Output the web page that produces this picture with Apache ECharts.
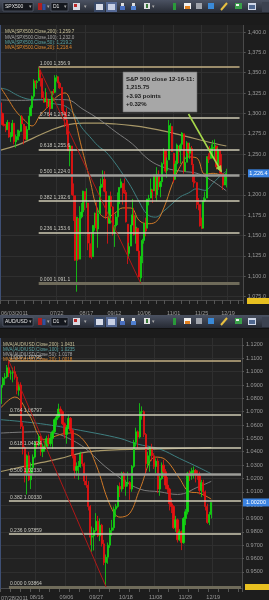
<!DOCTYPE html>
<html><head><meta charset="utf-8">
<script src="https://cdn.jsdelivr.net/npm/echarts/dist/echarts.min.js"></script>
<style>html,body{margin:0;padding:0;background:#1d1d1d;}#c{width:269px;height:600px;}</style>
</head><body><div id="c"></div><script>
// ---------- DATA ----------
function tradingDays(y,m,d,count,skip){var out=[];var dt=new Date(Date.UTC(y,m-1,d));while(out.length<count){var w=dt.getUTCDay();var s=('0'+(dt.getUTCMonth()+1)).slice(-2)+'/'+('0'+dt.getUTCDate()).slice(-2);if(w!==0&&w!==6&&skip.indexOf(s)<0)out.push(s);dt.setUTCDate(dt.getUTCDate()+1);}return out;}
var spxDates = tradingDays(2011,6,3,148,['07/04','09/05','11/24','12/26','01/02']);
var audDates = tradingDays(2011,7,21,122,[]);

var spxOpen=[1313,1300,1287,1285,1280,1289,1271,1272,1288,1265,1268,1272,1278,1296,1287,1284,1268,1280,1297,1307,1321,1340,1338,1340,1353,1343,1319,1314,1318,1309,1316,1306,1327,1326,1344,1345,1337,1332,1305,1301,1292,1287,1254,1260,1200,1199,1121,1171,1121,1173,1179,1204,1193,1190,1140,1124,1124,1162,1177,1158,1177,1209,1213,1219,1204,1173,1165,1198,1185,1153,1162,1173,1189,1209,1214,1204,1203,1164,1128,1137,1163,1175,1152,1159,1131,1098,1124,1144,1166,1159,1194,1196,1206,1205,1224,1200,1224,1210,1216,1238,1254,1230,1243,1284,1284,1251,1219,1238,1260,1253,1262,1275,1229,1240,1263,1251,1257,1236,1216,1215,1192,1188,1161,1159,1193,1196,1246,1246,1245,1257,1258,1260,1235,1255,1237,1226,1212,1216];
var spxHigh=[1313,1301,1297,1287,1292,1289,1277,1292,1288,1274,1280,1280,1297,1298,1287,1284,1284,1297,1310,1322,1342,1340,1341,1356.9,1353,1343,1327,1331,1326,1318,1316,1327,1330,1347,1347,1345,1339,1332,1316,1303,1307,1287,1261,1260,1214,1199,1173,1171,1186,1190,1205,1204,1208,1190,1154,1154,1163,1178,1191,1182,1210,1220,1230,1229,1204,1173,1198,1204,1186,1163,1177,1203,1209,1220,1214,1220,1206,1164,1141,1163,1195,1184,1175,1159,1138,1125,1146,1165,1172,1195,1200,1220,1207,1225,1225,1234,1230,1217,1240,1257,1254,1246,1292,1288,1284,1251,1242,1263,1260,1263,1277,1275,1247,1266,1264,1264,1260,1238,1224,1215,1196,1188,1172,1197,1204,1247,1251,1260,1262,1267,1268,1260,1258,1255,1250,1226,1226,1232];
var spxLow=[1298,1285,1284,1277,1280,1270,1265,1272,1262,1258,1267,1267,1277,1287,1262,1267,1267,1280,1297,1307,1318,1331,1330,1340,1333,1318,1313,1314,1306,1308,1296,1306,1323,1325,1339,1331,1330,1303,1299,1283,1274,1254,1235,1200,1168,1119,1081,1119,1121,1171,1179,1181,1184,1132,1123,1121,1124,1156,1155,1135,1177,1195,1209,1203,1170,1140,1165,1183,1150,1136,1157,1163,1189,1208,1188,1201,1166,1115,1122,1137,1163,1150,1140,1131,1099,1091.1,1116,1140,1149,1159,1187,1196,1190,1205,1196,1192,1206,1197,1216,1238,1227,1221,1243,1278,1253,1215,1219,1228,1239,1238,1255,1226,1229,1240,1246,1244,1237,1209,1214,1183,1181,1161,1158,1159,1191,1196,1239,1243,1245,1254,1244,1231,1235,1226,1223,1206,1212,1209];
var spxClose=[1300.2,1286.2,1284.9,1279.6,1289.0,1271.0,1271.8,1287.9,1265.4,1267.6,1271.5,1278.4,1295.5,1287.1,1283.5,1268.5,1280.1,1296.7,1307.4,1320.6,1339.7,1337.9,1339.2,1353.2,1343.8,1319.5,1313.6,1317.7,1308.9,1316.1,1305.4,1326.7,1325.8,1343.8,1345.0,1337.4,1331.9,1304.9,1300.7,1292.3,1286.9,1254.1,1260.3,1200.1,1199.4,1119.5,1172.5,1120.8,1172.6,1178.8,1204.5,1192.8,1193.9,1140.7,1123.5,1123.8,1162.4,1177.6,1159.3,1176.8,1210.1,1212.9,1218.9,1204.4,1174.0,1165.2,1198.6,1185.9,1154.2,1162.3,1172.9,1188.7,1209.1,1216.0,1204.1,1202.1,1166.8,1129.6,1136.4,1163.0,1175.4,1151.1,1160.4,1131.4,1099.2,1124.0,1144.0,1165.0,1155.5,1194.9,1195.5,1207.3,1203.7,1224.6,1200.9,1225.4,1209.9,1215.4,1238.3,1254.2,1229.1,1242.0,1284.6,1285.1,1253.3,1218.3,1237.9,1261.2,1253.2,1261.1,1275.9,1229.1,1239.7,1263.9,1251.8,1257.8,1236.9,1216.1,1215.7,1193.0,1188.0,1161.8,1158.7,1192.6,1195.2,1247.0,1244.6,1244.3,1257.1,1258.5,1261.0,1234.4,1255.2,1236.5,1225.7,1211.8,1215.8,1226.4];

var spxMa200=[['06/03',1255],['06/17',1261],['07/01',1270],['07/18',1279],['08/01',1286],['08/15',1288],['08/29',1288],['09/13',1287],['09/27',1285],['10/11',1282],['10/25',1278],['11/08',1273],['11/22',1268],['12/07',1263],['12/16',1260]];
var spxMa100=[['06/03',1316.6],['06/17',1316],['07/01',1316.4],['07/18',1317],['08/01',1316.7],['08/15',1305],['08/29',1292.3],['09/13',1277],['09/27',1262.4],['10/11',1243],['10/25',1233],['11/08',1229],['11/22',1225.9],['12/07',1215],['12/16',1204.8]];
var spxMa50=[['06/03',1331],['06/09',1329.1],['06/16',1323.4],['06/23',1319.0],['06/30',1317.1],['07/08',1317.2],['07/15',1312.9],['07/22',1311.4],['07/29',1309.1],['08/05',1300.5],['08/12',1283.2],['08/19',1271.5],['08/26',1260.3],['09/02',1252.3],['09/12',1240.2],['09/19',1225.7],['09/26',1210.2],['10/03',1191.6],['10/10',1175.9],['10/17',1172.6],['10/24',1180.1],['10/31',1188.9],['11/07',1197.5],['11/14',1202.3],['11/21',1207.4],['11/29',1205.5],['12/06',1214.6],['12/13',1224.5],['12/16',1228.9]];
var spxMa20=[['06/03',1331.5],['06/09',1319.1],['06/16',1303.2],['06/23',1292.5],['06/30',1284.6],['07/08',1298.3],['07/15',1308.9],['07/22',1320.5],['07/29',1325.2],['08/05',1299.5],['08/12',1258.9],['08/19',1219.4],['08/26',1181.0],['09/02',1172.0],['09/12',1177.1],['09/19',1183.9],['09/26',1183.8],['10/03',1168.6],['10/10',1164.5],['10/17',1166.5],['10/24',1183.8],['10/31',1212.6],['11/07',1235.1],['11/14',1246.5],['11/21',1245.3],['11/29',1225.4],['12/06',1226.4],['12/13',1224.0],['12/16',1221.2]];

var spxFibRatio=['1.000','0.764','0.618','0.500','0.382','0.236','0.000'];
var spxFibValue=[1356.9,1294.2,1255.6,1224.0,1192.6,1153.6,1091.1];
var spxYTicks=[1075,1100,1125,1150,1175,1200,1225,1250,1275,1300,1325,1350,1375,1400];
var spxXLabels=['07/22','08/17','09/12','10/06','11/01','11/25','12/19'];
var spxArrow=[['11/14',1299.3],['12/13',1228.4]];

var audOpen=[1.0760,1.0900,1.0950,1.0960,1.1030,1.0990,1.0990,1.1000,1.0960,1.0860,1.0900,1.0590,1.0430,1.0230,1.0370,1.0190,1.0280,1.0360,1.0470,1.0450,1.0510,1.0400,1.0420,1.0440,1.0500,1.0460,1.0500,1.0550,1.0640,1.0660,1.0720,1.0700,1.0610,1.0530,1.0580,1.0650,1.0560,1.0370,1.0260,1.0290,1.0290,1.0380,1.0310,1.0180,1.0150,0.9990,0.9760,0.9770,0.9810,0.9880,0.9770,0.9850,0.9710,0.9570,0.9610,0.9700,0.9810,0.9830,0.9970,0.9990,1.0140,1.0120,1.0240,1.0140,1.0170,1.0170,1.0120,1.0290,1.0470,1.0550,1.0510,1.0700,1.0700,1.0530,1.0310,1.0370,1.0430,1.0370,1.0290,1.0330,1.0120,1.0200,1.0300,1.0250,1.0150,1.0120,1.0010,0.9990,0.9830,0.9890,0.9740,0.9800,0.9720,0.9900,0.9950,1.0240,1.0220,1.0250,1.0260,1.0230,1.0220,1.0110,1.0170,1.0100,0.9990,0.9870,0.9930];
var audHigh=[1.0920,1.0960,1.0990,1.1050,1.1080,1.1010,1.1030,1.1040,1.0980,1.0920,1.0920,1.0620,1.0440,1.0380,1.0400,1.0320,1.0380,1.0480,1.0480,1.0530,1.0520,1.0460,1.0480,1.0520,1.0530,1.0540,1.0560,1.0650,1.0680,1.0760,1.0740,1.0710,1.0620,1.0600,1.0680,1.0660,1.0570,1.0380,1.0320,1.0330,1.0400,1.0390,1.0320,1.0230,1.0180,1.0000,0.9840,0.9830,0.9940,0.9920,0.9900,0.9860,0.9740,0.9630,0.9720,0.9830,0.9890,0.9990,1.0010,1.0150,1.0170,1.0250,1.0250,1.0190,1.0250,1.0180,1.0300,1.0490,1.0580,1.0560,1.0764,1.0740,1.0710,1.0540,1.0400,1.0440,1.0460,1.0390,1.0350,1.0350,1.0220,1.0320,1.0340,1.0270,1.0210,1.0130,1.0050,1.0000,0.9920,0.9900,0.9820,0.9810,0.9910,0.9970,1.0250,1.0260,1.0280,1.0290,1.0270,1.0260,1.0250,1.0190,1.0190,1.0110,1.0010,0.9950,1.0020];
var audLow=[1.0740,1.0880,1.0900,1.0950,1.0960,1.0940,1.0920,1.0940,1.0830,1.0820,1.0570,1.0380,1.0170,1.0080,1.0180,1.0120,1.0230,1.0350,1.0420,1.0440,1.0370,1.0360,1.0400,1.0420,1.0440,1.0440,1.0420,1.0540,1.0600,1.0650,1.0680,1.0600,1.0500,1.0460,1.0570,1.0540,1.0350,1.0200,1.0220,1.0190,1.0280,1.0290,1.0150,1.0130,0.9960,0.9700,0.9650,0.9660,0.9800,0.9760,0.9730,0.9690,0.9550,0.9387,0.9560,0.9680,0.9770,0.9810,0.9910,0.9980,1.0060,1.0100,1.0120,1.0070,1.0140,1.0040,1.0100,1.0280,1.0440,1.0420,1.0500,1.0640,1.0510,1.0230,1.0280,1.0250,1.0330,1.0270,1.0240,1.0090,1.0070,1.0190,1.0210,1.0120,1.0090,0.9960,0.9940,0.9820,0.9800,0.9720,0.9730,0.9663,0.9710,0.9850,0.9930,1.0180,1.0190,1.0200,1.0170,1.0190,1.0080,1.0060,1.0070,0.9960,0.9860,0.9850,0.9900];
var audClose=[1.0900,1.0950,1.0960,1.1030,1.0990,1.0990,1.1000,1.0960,1.0860,1.0900,1.0590,1.0430,1.0230,1.0370,1.0190,1.0280,1.0360,1.0470,1.0450,1.0510,1.0400,1.0420,1.0440,1.0500,1.0460,1.0500,1.0550,1.0640,1.0660,1.0720,1.0700,1.0610,1.0530,1.0580,1.0650,1.0560,1.0370,1.0260,1.0290,1.0290,1.0380,1.0310,1.0180,1.0150,0.9990,0.9760,0.9770,0.9810,0.9880,0.9770,0.9850,0.9710,0.9570,0.9610,0.9700,0.9810,0.9830,0.9970,0.9990,1.0140,1.0120,1.0240,1.0140,1.0170,1.0170,1.0120,1.0290,1.0470,1.0550,1.0510,1.0700,1.0700,1.0530,1.0310,1.0370,1.0430,1.0370,1.0290,1.0330,1.0120,1.0200,1.0300,1.0250,1.0150,1.0120,1.0010,0.9990,0.9830,0.9890,0.9740,0.9800,0.9720,0.9900,0.9950,1.0240,1.0220,1.0250,1.0260,1.0230,1.0220,1.0110,1.0170,1.0100,0.9990,0.9870,0.9930,1.0020];

var audMa200=[['07/21',1.0252],['08/04',1.0285],['08/18',1.0318],['09/01',1.0350],['09/15',1.0390],['09/29',1.0408],['10/13',1.0416],['11/10',1.0421],['12/08',1.0428],['12/16',1.0431]];
var audMa100=[['07/21',1.0640],['08/18',1.0610],['09/15',1.0560],['10/13',1.0500],['10/25',1.0460],['11/10',1.0420],['11/24',1.0350],['12/08',1.0280],['12/16',1.0235]];
var audMa50=[['07/21',1.0540],['08/18',1.0550],['09/13',1.0470],['10/06',1.0260],['10/27',1.0120],['11/10',1.0100],['11/23',1.0080],['12/08',1.0140],['12/16',1.0178]];
var audMa20=[['07/21',1.0730],['08/01',1.0810],['08/10',1.0680],['08/22',1.0490],['09/01',1.0530],['09/08',1.0540],['09/19',1.0480],['09/27',1.0300],['10/06',1.0000],['10/13',0.9910],['10/20',0.9940],['10/27',1.0120],['11/08',1.0360],['11/15',1.0340],['11/24',1.0200],['12/01',1.0100],['12/08',1.0090],['12/16',1.0045]];

var audFibRatio=['1.000','0.764','0.618','0.500','0.382','0.236','0.000'];
var audFibValue=[1.10795,1.06797,1.04324,1.02330,1.00330,0.97859,0.93864];
var audYTicks=[0.95,0.96,0.97,0.98,0.99,1.00,1.01,1.02,1.03,1.04,1.05,1.06,1.07,1.08,1.09,1.10,1.11,1.12];
var audXLabels=['08/16','09/06','09/27','10/18','11/08','11/29','12/19'];

var spxLegend=['MVA(SPX500.Close,200): 1,259.7','MVA(SPX500.Close,100): 1,232.0','MVA(SPX500.Close,50): 1,219.2','MVA(SPX500.Close,20): 1,218.4'];
var audLegend=['MVA(AUD/USD.Close,200): 1.0431','MVA(AUD/USD.Close,100): 1.0235','MVA(AUD/USD.Close,50): 1.0178','MVA(AUD/USD.Close,20): 1.0018'];
var noteLines=['S&P 500 close 12-16-11:','1,215.75','+3.93 points','+0.32%'];
var firstDateLabels=['06/03/2011','07/28/2011'];

// ---------- CHART ----------
var FONT='"Liberation Sans", Arial, sans-serif';
var chart=echarts.init(document.getElementById('c'),null,{renderer:'canvas'});
var UP='#12d812',DN='#e81212';
function candles(o,h,l,c){return o.map(function(v,i){return [v,c[i],l[i],h[i]];});}
function fibMark(ratios,vals,start,end,labFmt){
  var cols=['#c4b184','#cfcbb4','#cfcbb4','#9d9d98','#cfcbb4','#cfcbb4','#6f6b5a'];
  var widths=[1.5,1.5,1.5,2.5,1.5,1.5,3];
  var d=vals.map(function(v,i){return [{coord:[start,v],lineStyle:{color:cols[i],width:widths[i],type:'solid'},label:{formatter:ratios[i]+' '+labFmt(v)}},{coord:[end,v]}];});
  return {symbol:['none','none'],silent:true,animation:false,label:{show:true,position:'insideStartTop',color:'#c8c8c0',fontSize:5,fontFamily:FONT,distance:1},data:d};
}
function maSeries(data,color,xi,yi,w){return {type:'line',xAxisIndex:xi,yAxisIndex:yi,data:data,smooth:0.4,connectNulls:true,showSymbol:false,symbol:'none',lineStyle:{color:color,width:w||1},silent:true,z:3};}
function fmtSpx(v){return v.toLocaleString('en-US',{minimumFractionDigits:1,maximumFractionDigits:1});}

var option={
  backgroundColor:'#1d1d1d',animation:false,
  grid:[{left:0,top:25,width:247,height:275,show:true,backgroundColor:'#222222',borderWidth:0},
        {left:0,top:338,width:242,height:251,show:true,backgroundColor:'#222222',borderWidth:0}],
  xAxis:[
   {type:'category',gridIndex:0,data:spxDates,boundaryGap:true,
    axisLine:{show:true,lineStyle:{color:'#4a4a4a'}},
    axisTick:{show:true,interval:function(i){return i%5===0;},length:4,lineStyle:{color:'#555'}},
    axisLabel:{interval:function(i,v){return spxXLabels.indexOf(v)>=0;},color:'#9a9a9a',fontSize:5.5,fontFamily:FONT,margin:10},
    splitLine:{show:true,interval:function(i,v){return spxXLabels.indexOf(v)>=0;},lineStyle:{color:'#2f2f2f',width:1}}},
   {type:'category',gridIndex:1,data:audDates,boundaryGap:true,
    axisLine:{show:true,lineStyle:{color:'#4a4a4a'}},
    axisTick:{show:true,interval:function(i){return i%5===0;},length:4,lineStyle:{color:'#555'}},
    axisLabel:{interval:function(i,v){return audXLabels.indexOf(v)>=0;},color:'#9a9a9a',fontSize:5.5,fontFamily:FONT,margin:6},
    splitLine:{show:true,interval:function(i,v){return audXLabels.indexOf(v)>=0;},lineStyle:{color:'#2f2f2f',width:1}}}
  ],
  yAxis:[
   {type:'value',gridIndex:0,position:'right',min:1070.8,max:1408.6,scale:true,
    axisLine:{show:true,lineStyle:{color:'#4a4a4a'}},
    axisTick:{show:true,customValues:spxYTicks,length:2,lineStyle:{color:'#555'}},
    axisLabel:{customValues:spxYTicks,formatter:fmtSpx,color:'#9a9a9a',fontSize:5.5,fontFamily:FONT,margin:4},
    splitLine:{show:true,lineStyle:{color:'#2f2f2f',width:1}}},
   {type:'value',gridIndex:1,position:'right',min:0.93791,max:1.12522,scale:true,
    axisLine:{show:true,lineStyle:{color:'#4a4a4a'}},
    axisTick:{show:true,customValues:audYTicks,length:2,lineStyle:{color:'#555'}},
    axisLabel:{customValues:audYTicks,formatter:function(v){return v.toFixed(4);},color:'#9a9a9a',fontSize:5.5,fontFamily:FONT,margin:4},
    splitLine:{show:true,lineStyle:{color:'#2f2f2f',width:1}}}
  ],
  series:[
   maSeries(spxMa200,'#a89868',0,0,1.2),maSeries(spxMa100,'#7c7c7c',0,0,1),maSeries(spxMa50,'#3f7f80',0,0,1),maSeries(spxMa20,'#d07a28',0,0,1),
   {type:'candlestick',xAxisIndex:0,yAxisIndex:0,data:candles(spxOpen,spxHigh,spxLow,spxClose),barWidth:1.6,z:4,
    itemStyle:{color:UP,color0:DN,borderColor:UP,borderColor0:DN,borderWidth:0.8},
    markLine:fibMark(spxFibRatio,spxFibValue,'07/07','12/29',fmtSpx)},
   {type:'line',xAxisIndex:0,yAxisIndex:0,data:[['07/07',spxFibValue[0]],['10/04',spxFibValue[6]]],showSymbol:false,symbol:'none',lineStyle:{color:'#b01818',width:1},silent:true,z:5},
   maSeries(audMa200,'#a89868',1,1,1.2),maSeries(audMa100,'#3f7f80',1,1,1),maSeries(audMa50,'#7c7c7c',1,1,1),maSeries(audMa20,'#d07a28',1,1,1),
   {type:'candlestick',xAxisIndex:1,yAxisIndex:1,data:candles(audOpen,audHigh,audLow,audClose),barWidth:1.8,z:4,
    itemStyle:{color:UP,color0:DN,borderColor:UP,borderColor0:DN,borderWidth:0.8},
    markLine:fibMark(audFibRatio,audFibValue,'07/27',audDates[audDates.length-1],function(v){return v.toFixed(5);})},
   {type:'line',xAxisIndex:1,yAxisIndex:1,data:[['07/27',audFibValue[0]],['10/04',audFibValue[6]]],showSymbol:false,symbol:'none',lineStyle:{color:'#b01818',width:1},silent:true,z:5}
  ]
};
chart.setOption(option);

// ---------- DECORATION (toolbars, legends, note, tags) ----------
var G=[];
function rect(x,y,w,h,fill,stroke,z){G.push({type:'rect',shape:{x:x,y:y,width:w,height:h},style:{fill:fill,stroke:stroke||null,lineWidth:stroke?0.6:0},silent:true,z:z||100});}
function txt(x,y,t,fill,size,opt){var s={text:t,fill:fill,font:(opt&&opt.weight?opt.weight+' ':'')+size+'px '+FONT,align:(opt&&opt.align)||'left',verticalAlign:'middle'};G.push({type:'text',x:x,y:y,style:s,silent:true,z:(opt&&opt.z)||101});}
function toolbar(y,sym){
  G.push({type:'rect',shape:{x:0,y:y,width:269,height:13},style:{fill:new echarts.graphic.LinearGradient(0,0,0,1,[{offset:0,color:'#4b5262'},{offset:1,color:'#262a33'}])},silent:true,z:100});
  rect(0,y+13,269,1,'#111');
  rect(3,y+2.5,30,8.5,'#14171d','#636a7a');txt(5,y+6.8,sym,'#e8e8e8',5);txt(29,y+6.8,'▾','#aaa',5);
  rect(38,y+3,4,7,'#b02020');rect(42.5,y+4,3,6,'#3050a0');txt(47,y+6.8,'▾','#aaa',5);
  rect(51,y+2.5,17,8.5,'#14171d','#636a7a');txt(53,y+6.8,'D1','#e8e8e8',5);txt(64,y+6.8,'▾','#aaa',5);
  rect(73,y+3,7,7,'#d8d8e0');rect(74,y+4,3,3,'#c02828');txt(84,y+6.8,'▾','#aaa',5);
  rect(94,y+2,11,10,'#3a4a68');rect(96,y+4,7,6,'#d8dce8');
  rect(106,y+2,11,10,'#566a96');rect(108,y+4,7,6,'#c8d0e4');
  rect(121,y+3,3,3,'#e0e0e0');rect(120,y+6,5,4,'#4a70c0');
  rect(132,y+3,3,3,'#e0e0e0');rect(131,y+6,5,4,'#5080d0');
  rect(144,y+3,6,6,'#e0e0e0');rect(146,y+4,2,4,'#3a7a3a');txt(152,y+6.8,'▾','#aaa',5);
  rect(173,y+3,3,7,'#2a9a3a');
  rect(184,y+3,7,6,'#f0f0f0');rect(185,y+6,5,3,'#e08020');
  rect(196,y+3,6,6,'#a0a4ac');
  rect(208,y+3,6,6,'#3a8ad8');
  G.push({type:'line',shape:{x1:221,y1:y+10,x2:227,y2:y+3},style:{stroke:'#e8c040',lineWidth:2},silent:true,z:101});
  rect(235,y+3,7,6,'#3aa04a');rect(236,y+4,3,2,'#f0f0f0');
  rect(248,y+3,8,7,'#d0d8e8');rect(249,y+5,6,4,'#506890');
  rect(262,y+2,7,10,'#3c4250');
}
toolbar(0,'SPX500');
rect(0,14,269,11,'#1b1b1b');
toolbar(315,'AUD/USD');
rect(0,329,269,9,'#1b1b1b');

// left edge accent
rect(0,25,1,275,'#3e4f74');
rect(0,338,1,251,'#3e4f74');

// legends
var legColTop=['#c9c29a','#a9a9a9','#5aa6a6','#e08a30'];
spxLegend.forEach(function(t,i){txt(5,32+i*5.3,t,legColTop[i],4.6);});
var legColBot=['#c9c29a','#5aa6a6','#a9a9a9','#e08a30'];
audLegend.forEach(function(t,i){txt(3,345+i*5,t,legColBot[i],4.6);});

// first date labels
txt(1,313,firstDateLabels[0],'#9a9a9a',5.5);
txt(1,598,firstDateLabels[1],'#9a9a9a',5.5);

// annotation box
rect(123,72,74,40,'#a7a7a7','#6a6a6a',110);
noteLines.forEach(function(t,i){txt(126,79+i*8.6,t,'#1a1a1a',6,{weight:'bold',z:111});});

// arrow (pixel positions derived from data through the axes)
var pA=chart.convertToPixel({xAxisIndex:0,yAxisIndex:0},spxArrow[0]);
var pB=chart.convertToPixel({xAxisIndex:0,yAxisIndex:0},spxArrow[1]);
G.push({type:'line',shape:{x1:pA[0],y1:pA[1],x2:pB[0],y2:pB[1]},style:{stroke:'#a6d84a',lineWidth:1.6},silent:true,z:120});
(function(){var dx=pB[0]-pA[0],dy=pB[1]-pA[1],L=Math.sqrt(dx*dx+dy*dy);var ux=dx/L,uy=dy/L;var bx=pB[0]-ux*6,by=pB[1]-uy*6;
G.push({type:'polygon',shape:{points:[[pB[0]+ux,pB[1]+uy],[bx-uy*3,by+ux*3],[bx+uy*3,by-ux*3]]},style:{fill:'#a6d84a'},silent:true,z:120});})();

// price tags
var tTop=chart.convertToPixel({yAxisIndex:0},spxClose[spxClose.length-1]);
rect(248,tTop-4,21,8,'#3a82e0',null,110);txt(258.5,tTop,fmtSpx(spxClose[spxClose.length-1]),'#ffffff',5.5,{align:'center',z:111});
var tBot=chart.convertToPixel({yAxisIndex:1},audClose[audClose.length-1]);
rect(243,tBot-4,26,8,'#3a82e0',null,110);txt(256,tBot,audClose[audClose.length-1].toFixed(5),'#ffffff',5.5,{align:'center',z:111});
rect(247,298,22,6,'#e8c020',null,110);
rect(245,584,24,6,'#e8c020',null,110);

chart.setOption({graphic:{elements:G}});
</script></body></html>
